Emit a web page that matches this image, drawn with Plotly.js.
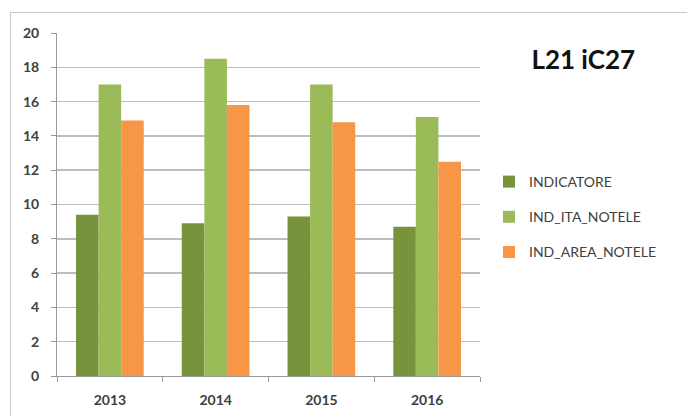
<!DOCTYPE html>
<html>
<head>
<meta charset="utf-8">
<script src="https://cdn.plot.ly/plotly-3.0.1.min.js"></script>
<style>
  html, body { margin: 0; padding: 0; background: #fff; }
  #wrap { position: relative; width: 687px; height: 416px; overflow: hidden; }
  #frame { position: absolute; left: 10px; top: 12px; right: -2px; bottom: -2px;
           border-left: 1px solid #c8c8c8; border-top: 1px solid #c8c8c8; pointer-events: none; z-index: 5; }
  #chart { position: absolute; left: 0; top: 0; width: 687px; height: 416px; }
</style>
</head>
<body>
<div id="wrap">
  <div id="chart"></div>
  <div id="frame"></div>
</div>
<script>
const categories = ["2013", "2014", "2015", "2016"];
const indicatore = [9.4, 8.9, 9.3, 8.7];
const indItaNotele = [17.0, 18.5, 17.0, 15.1];
const indAreaNotele = [14.9, 15.8, 14.8, 12.5];
const seriesNames = ["INDICATORE", "IND_ITA_NOTELE", "IND_AREA_NOTELE"];
const yTicks = [0, 2, 4, 6, 8, 10, 12, 14, 16, 18, 20];

const colors = ["#77933C", "#9BBB59", "#F79646"];
const values = [indicatore, indItaNotele, indAreaNotele];

const data = values.map((v, i) => ({
  type: "bar",
  x: categories,
  y: v,
  name: seriesNames[i],
  legendgroup: "g" + i,
  marker: { color: colors[i], line: { width: 0 } },
  hoverinfo: "x+y+name"
}));

const tickFont = { family: "Lato, 'Open Sans', sans-serif", size: 14, color: "#404040", weight: "bold" };

const layout = {
  width: 687,
  height: 416,
  margin: { l: 57, r: 207, t: 33, b: 40, pad: 0 },
  paper_bgcolor: "#ffffff",
  plot_bgcolor: "#ffffff",
  barmode: "group",
  bargap: 0.36,
  bargroupgap: 0,
  showlegend: true,
  title: {
    text: "<b>L21 iC27</b>",
    font: { family: "Lato, 'Open Sans', sans-serif", size: 26, color: "#111111" },
    xref: "container", yref: "container",
    x: 0.849, xanchor: "center",
    y: 1 - 60 / 416, yanchor: "middle"
  },
  legend: {
    x: 489 / 687, xref: "container", xanchor: "left",
    y: 1 - 217 / 416, yref: "container", yanchor: "middle",
    font: { family: "Lato, 'Open Sans', sans-serif", size: 14, color: "#404040" },
    tracegroupgap: 14,
    traceorder: "grouped",
    bgcolor: "rgba(0,0,0,0)"
  },
  xaxis: {
    type: "category",
    categoryorder: "array",
    categoryarray: categories,
    showline: true,
    linecolor: "#9a9a9a",
    linewidth: 1,
    ticks: "outside",
    tickson: "boundaries",
    ticklen: 5,
    tickcolor: "#9a9a9a",
    showgrid: false,
    zeroline: false,
    ticklabelstandoff: 11,
    tickfont: tickFont,
    fixedrange: true
  },
  yaxis: {
    range: [0, 20],
    tickmode: "array",
    tickvals: yTicks,
    ticktext: yTicks.map(String),
    showline: true,
    linecolor: "#9a9a9a",
    linewidth: 1,
    ticks: "outside",
    ticklen: 5,
    tickcolor: "#9a9a9a",
    showgrid: true,
    gridcolor: "#bdbdbd",
    gridwidth: 1.5,
    zeroline: false,
    ticklabelstandoff: 9,
    tickfont: tickFont,
    fixedrange: true
  }
};

Plotly.newPlot("chart", data, layout, { displayModeBar: false, staticPlot: true });
</script>
</body>
</html>
